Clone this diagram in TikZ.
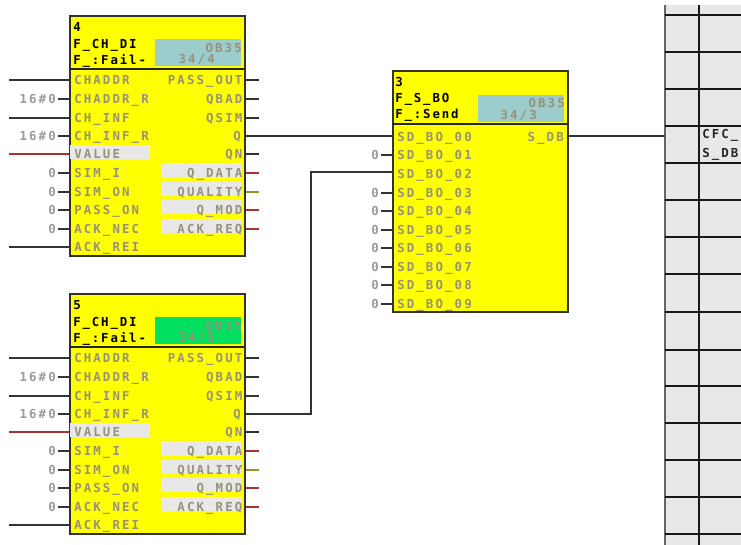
\documentclass[tikz,border=0pt]{standalone}
\usepackage{fontspec}
\setmainfont{DejaVu Sans Mono}
\newfontfamily\pinfont[LetterSpace=17]{DejaVu Sans Mono Bold}
\newfontfamily\titlefont[LetterSpace=15]{DejaVu Sans Mono Bold}
\definecolor{blockyellow}{HTML}{FFFF00}
\definecolor{pintext}{HTML}{96927A}
\definecolor{constext}{HTML}{9A9A9A}
\definecolor{cellgrey}{HTML}{E8E8E8}
\definecolor{tealbox}{HTML}{9CCCCC}
\definecolor{brightgreen}{HTML}{00E060}
\definecolor{redwire}{HTML}{A83232}
\definecolor{olivewire}{HTML}{94941E}
\definecolor{darkline}{HTML}{333333}
\tikzset{
  x=0.75pt,y=-0.75pt,
  fblock/.style={draw=darkline,line width=1.2pt,fill=blockyellow,inner sep=0pt,minimum width=175*0.75pt,anchor=north west},
  wire/.style={draw=darkline,line width=0.9pt},
  redw/.style={draw=redwire,line width=0.9pt},
  olivew/.style={draw=olivewire,line width=0.9pt},
  sep/.style={draw=black!85,line width=1.2pt},
  basetext/.style={inner sep=0pt,text height=9*0.75pt,text depth=0pt,font=\fontsize{9.3pt}{10pt}\pinfont},
  pinl/.style={basetext,anchor=west,text=pintext},
  pinr/.style={basetext,anchor=east,text=pintext},
  consttext/.style={basetext,anchor=east,text=constext},
  title/.style={inner sep=0pt,text height=9*0.75pt,text depth=0pt,anchor=west,font=\fontsize{9.3pt}{10pt}\titlefont,text=black},
  cell/.style={basetext,anchor=west,text=black!85},
  gridline/.style={draw=black!90,line width=1pt},
}
\newcommand\inwire[5]{%
  \coordinate (#1i#2) at (9,#3);
  \draw[#5] (#1i#2) -- (#1i#2 -| #1.west);
  \node[pinl] (#1t#2) at ([xshift=5*0.75pt]#1i#2 -| #1.west) {#4};}
\newcommand\inconst[5]{%
  \coordinate (#1a#2) at (56,#3);
  \node[consttext] (#1c#2) at (#1a#2) {#5};
  \draw[wire] (#1c#2.east) ++(2*0.75pt,0) -- (#1a#2 -| #1.west);
  \node[pinl] (#1t#2) at ([xshift=5*0.75pt]#1a#2 -| #1.west) {#4};}
\newcommand\outwire[5]{%
  \coordinate (#1o#2) at (259,#3);
  \draw[#5] (#1o#2 -| #1.east) -- (#1o#2);
  \node[pinr] (#1r#2) at ([xshift=-3*0.75pt]#1o#2 -| #1.east) {#4};}
\newcommand\chdi[6]{%
  \node[fblock,minimum height=240*0.75pt] (#1) at (69,#3) {};
  \fill[#5] (155,#3+24) rectangle (241,#3+51);
  \fill[cellgrey] (70,#3+130) rectangle (150,#3+144);
  \fill[cellgrey] (162,#3+148) rectangle (241,#3+163);
  \fill[cellgrey] (162,#3+167) rectangle (241,#3+181);
  \fill[cellgrey] (162,#3+185) rectangle (241,#3+199);
  \fill[cellgrey] (162,#3+204) rectangle (241,#3+218);
  \draw[sep] (69,#3+54) -- (244,#3+54);
  \node[title] (#1n) at (73,#3+12) {#2};
  \node[title] (#1f) at (73,#3+29) {F\_CH\_DI};
  \node[title] (#1d) at (73,#3+45) {F\_:Fail-};
  \node[pinr] (#1ob) at (242,#3+33) {OB35};
  \node[pinr] (#1rt) at (215,#3+44) {#6};
  \inwire{#1}{1}{#3+65}{CHADDR}{wire}
  \inconst{#1}{2}{#3+84}{CHADDR\_R}{16\#0}
  \inwire{#1}{3}{#3+103}{CH\_INF}{wire}
  \inconst{#1}{4}{#3+121}{CH\_INF\_R}{16\#0}
  \inwire{#1}{5}{#3+139}{VALUE}{redw}
  \inconst{#1}{6}{#3+158}{SIM\_I}{0}
  \inconst{#1}{7}{#3+177}{SIM\_ON}{0}
  \inconst{#1}{8}{#3+195}{PASS\_ON}{0}
  \inconst{#1}{9}{#3+214}{ACK\_NEC}{0}
  \inwire{#1}{10}{#3+232}{ACK\_REI}{wire}
  \outwire{#1}{1}{#3+65}{PASS\_OUT}{wire}
  \outwire{#1}{2}{#3+84}{QBAD}{wire}
  \outwire{#1}{3}{#3+103}{QSIM}{wire}
  \node[pinr] (#1r4) at (241,#3+121) {Q};
  \outwire{#1}{5}{#3+139}{QN}{wire}
  \outwire{#1}{6}{#3+158}{Q\_DATA}{redw}
  \outwire{#1}{7}{#3+177}{QUALITY}{olivew}
  \outwire{#1}{8}{#3+195}{Q\_MOD}{redw}
  \outwire{#1}{9}{#3+214}{ACK\_REQ}{redw}
  \coordinate (#1q) at (244,#3+121);
}
\begin{document}
\begin{tikzpicture}
\useasboundingbox (0,0) rectangle (741,545);
\fill[white] (0,0) rectangle (741,545);
\fill[cellgrey] (665,5) rectangle (741,545);
\draw[draw=black!60,line width=1.2pt] (665,5) -- (665,545);
\draw[gridline] (699,5) -- (699,545);
\foreach \yy in {15,52,89,126,163,200,237,274,312,350,386,423,460,497,534}
  \draw[gridline] (665,\yy) -- (741,\yy);
\node[cell] (cellA) at (702,134) {CFC\_S};
\node[cell] (cellB) at (702,153) {S\_DB};
\coordinate (tbl) at (665,136);
\chdi{bfour}{4}{15}{255}{tealbox}{34/4}
\chdi{bfive}{5}{293}{533}{brightgreen}{34/5}
\node[fblock,minimum height=241*0.75pt] (bthree) at (392,70) {};
\fill[tealbox] (478,95) rectangle (564,122);
\draw[sep] (392,124) -- (567,124);
\node[title] (bthreen) at (395,82) {3};
\node[title] (bthreef) at (395,98) {F\_S\_BO};
\node[title] (bthreed) at (395,114) {F\_:Send};
\node[pinr] (bthreeob) at (565,103) {OB35};
\node[pinr] (bthreert) at (537,115) {34/3};
\foreach \idx/\yy/\lab in {2/155/1,4/193/3,5/211/4,6/230/5,7/248/6,8/267/7,9/285/8,10/304/9}{
  \coordinate (sa\idx) at (379,\yy);
  \node[consttext] (sc\idx) at (sa\idx) {0};
  \draw[wire] (sc\idx.east) ++(2*0.75pt,0) -- (sa\idx -| bthree.west);
  \node[pinl] (st\idx) at ([xshift=5*0.75pt]sa\idx -| bthree.west) {SD\_BO\_0\lab};
}
\node[pinl] (st1) at (397,137) {SD\_BO\_00};
\node[pinl] (st3) at (397,174) {SD\_BO\_02};
\node[pinr] (sout) at (564,137) {S\_DB};
\coordinate (sin1) at (392,136);
\coordinate (sin3) at (392,172);
\coordinate (sdb) at (567,136);
\coordinate (bend) at (311,414);
\draw[wire] (bfourq) -- (sin1);
\draw[wire] (bfiveq) -- (bend) -- (bend |- sin3) -- (sin3);
\draw[wire] (sdb) -- (tbl);
\end{tikzpicture}
\end{document}
